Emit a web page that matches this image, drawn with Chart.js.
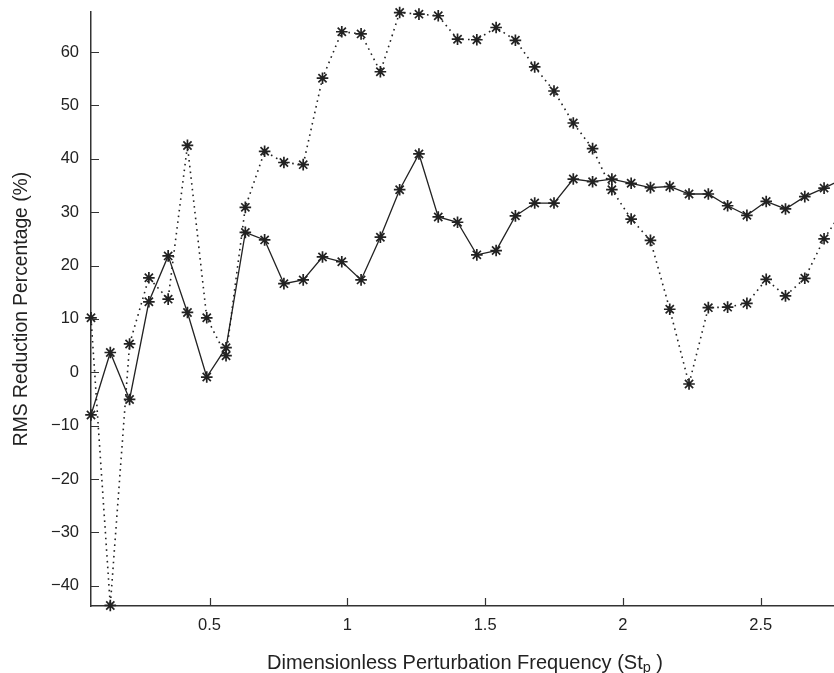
<!DOCTYPE html>
<html>
<head>
<meta charset="utf-8">
<script src="https://cdn.jsdelivr.net/npm/chart.js@4.4.1/dist/chart.umd.min.js"></script>
<style>
  html,body{margin:0;padding:0;background:#fff;}
  #wrap{width:834px;height:673px;}
</style>
</head>
<body>
<div id="wrap"><canvas id="chart" width="834" height="673"></canvas></div>
<script>
// ─── DATOS ────────────────────────────────────────────────────────────────────
const stp = [0.07,0.14,0.21,0.28,0.35,0.42,0.49,0.56,0.63,0.70,
             0.77,0.84,0.91,0.98,1.05,1.12,1.19,1.26,1.33,1.40,
             1.47,1.54,1.61,1.68,1.75,1.82,1.89,1.96,2.03,2.10,
             2.17,2.24,2.31,2.38,2.45,2.52,2.59,2.66,2.73,2.80];
const rmsSolid = [-8.0,3.7,-5.1,13.2,21.8,11.2,-0.9,4.6,26.2,24.8,
                  16.6,17.3,21.6,20.7,17.3,25.3,34.2,40.9,29.1,28.1,
                  22.0,22.8,29.3,31.7,31.7,36.2,35.7,36.2,35.4,34.6,
                  34.8,33.4,33.4,31.2,29.4,32.0,30.6,32.9,34.5,36.3];
const rmsDotted = [10.2,-43.7,5.3,17.7,13.7,42.5,10.2,3.1,30.9,41.4,
                   39.3,38.9,55.1,63.8,63.4,56.3,67.4,67.1,66.8,62.4,
                   62.3,64.6,62.2,57.2,52.7,46.7,41.9,34.2,28.7,24.7,
                   11.8,-2.2,12.1,12.2,12.9,17.4,14.3,17.6,25.0,30.5];
const xTickVals = [0.5,1,1.5,2,2.5];
const yTickVals = [-40,-30,-20,-10,0,10,20,30,40,50,60];

const INK = '#222';
const AXIS = '#333';
const FONT = '"Liberation Sans", Arial, Helvetica, sans-serif';

const pts = ys => stp.map((x,i)=>({x, y:ys[i]}));

// marcas de eje hacia adentro + título X con subíndice
const axisExtras = {
  id:'axisExtras',
  afterDraw(chart){
    const {ctx, chartArea:a, scales:{x, y}} = chart;
    ctx.save();
    ctx.strokeStyle = AXIS; ctx.lineWidth = 1.2;
    ctx.beginPath();
    x.ticks.forEach(t=>{ const px = Math.round(x.getPixelForValue(t.value))+0.5; ctx.moveTo(px,a.bottom); ctx.lineTo(px,a.bottom-8); });
    y.ticks.forEach(t=>{ const py = Math.round(y.getPixelForValue(t.value))+0.5; ctx.moveTo(a.left,py); ctx.lineTo(a.left+8,py); });
    ctx.stroke();

    const main = 'Dimensionless Perturbation Frequency (St', sub = 'p', tail = ' )';
    const big = '20px '+FONT, small = '14.5px '+FONT;
    ctx.fillStyle = INK; ctx.textBaseline = 'alphabetic'; ctx.textAlign = 'left';
    ctx.font = big; const w1 = ctx.measureText(main).width, w3 = ctx.measureText(tail).width;
    ctx.font = small; const w2 = ctx.measureText(sub).width;
    let cx = 465 - (w1+w2+w3)/2;
    const base = 669;
    ctx.font = big; ctx.fillText(main, cx, base); cx += w1;
    ctx.font = small; ctx.fillText(sub, cx, base+3); cx += w2;
    ctx.font = big; ctx.fillText(tail, cx, base);
    ctx.restore();
  }
};

const lineBase = {
  pointStyle:'star', pointRadius:5.8, pointBorderWidth:1.7,
  borderColor:INK, pointBorderColor:INK, pointBackgroundColor:INK,
  borderWidth:1.3, tension:0, clip:false
};

new Chart(document.getElementById('chart'), {
  type:'line',
  data:{datasets:[
    {...lineBase, label:'solid', data:pts(rmsSolid)},
    {...lineBase, label:'dotted', data:pts(rmsDotted), borderDash:[1.6,4.2], borderWidth:1.6}
  ]},
  options:{
    responsive:false, animation:false,
    layout:{autoPadding:false, padding:{top:12,right:0,left:0,bottom:0}},
    plugins:{legend:{display:false}, tooltip:{enabled:false}},
    scales:{
      x:{type:'linear', min:0.07, max:2.766,
        afterBuildTicks:s=>{ s.ticks = xTickVals.map(v=>({value:v})); },
        afterFit:s=>{ s.height = 67; s.paddingLeft = 0; s.paddingRight = 0; },
        grid:{display:false, drawTicks:false},
        border:{display:true, color:AXIS, width:1.5},
        ticks:{color:INK, font:{family:FONT, size:16.5}, padding:10, maxRotation:0,
          callback:v=>String(v)}
      },
      y:{type:'linear', min:-43.8, max:67.5,
        afterBuildTicks:s=>{ s.ticks = yTickVals.map(v=>({value:v})); },
        afterFit:s=>{ s.width = 91; s.paddingTop = 0; s.paddingBottom = 0; },
        grid:{display:false, drawTicks:false},
        border:{display:true, color:AXIS, width:1.5},
        ticks:{color:INK, font:{family:FONT, size:16.5}, padding:12,
          callback:v=>String(v).replace('-','\u2212')},
        title:{display:true, text:'RMS Reduction Percentage (%)', color:INK,
          font:{family:FONT, size:19.3}, padding:{top:10,bottom:0}}
      }
    }
  },
  plugins:[axisExtras]
});
</script>
</body>
</html>
